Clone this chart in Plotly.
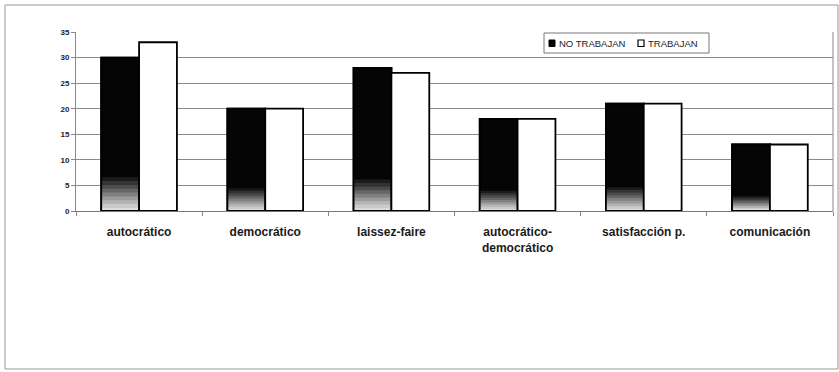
import plotly.graph_objects as go

categories = ["autocrático", "democrático", "laissez-faire",
              "autocrático-<br>democrático", "satisfacción p.", "comunicación"]
no_trabajan = [30, 20, 28, 18, 21, 13]
trabajan = [33, 20, 27, 18, 21, 13]
y_ticks = [0, 5, 10, 15, 20, 25, 30, 35]
legend_names = ["NO TRABAJAN", "TRABAJAN"]

FONT = "Liberation Sans, Arial, sans-serif"
W = 0.3
L, R, T, B = 76, 6, 32, 161
PW, PH = 839 - L - R, 372 - T - B


def px(x):
    return (x - L) / PW


def py(y):
    return 1 - (y - T) / PH


fig = go.Figure()
fig.add_trace(go.Bar(x=categories, y=no_trabajan, name=legend_names[0],
                     marker=dict(color="#050505", line=dict(color="#000", width=1.8)),
                     offset=-W, width=W, hoverinfo="skip", showlegend=False))
# fade toward the base of the dark bars (heights derived from the values)
fades = [(0.22, "#1c1c1c"), (0.195, "#333333"), (0.17, "#4c4c4c"), (0.145, "#666666"),
         (0.12, "#808080"), (0.095, "#9a9a9a"), (0.07, "#b4b4b4"), (0.045, "#cacaca"),
         (0.02, "#dcdcdc")]
for frac, col in fades:
    fig.add_trace(go.Bar(x=categories, y=[v * frac for v in no_trabajan],
                         marker=dict(color=col, line=dict(width=0)),
                         offset=-W, width=W, showlegend=False, hoverinfo="skip"))
fig.add_trace(go.Bar(x=categories, y=no_trabajan, showlegend=False,
                     marker=dict(color="rgba(0,0,0,0)", line=dict(color="#000", width=1.8)),
                     offset=-W, width=W, hoverinfo="skip"))
fig.add_trace(go.Bar(x=categories, y=trabajan, name=legend_names[1],
                     marker=dict(color="#ffffff", line=dict(color="#000", width=1.8)),
                     offset=0, width=W, hoverinfo="skip", showlegend=False))

shapes = [
    dict(type="line", xref="paper", yref="paper", x0=1, x1=1, y0=0, y1=1,
         line=dict(color="#888", width=1)),
    dict(type="rect", xref="paper", yref="paper",
         x0=px(5), x1=px(838), y0=py(369), y1=py(5),
         line=dict(color="#999", width=1), fillcolor="rgba(0,0,0,0)", layer="below"),
    # legend box
    dict(type="rect", xref="paper", yref="paper", x0=px(544), x1=px(709),
         y0=py(53), y1=py(33), line=dict(color="#777", width=1), fillcolor="white",
         layer="above"),
    dict(type="rect", xref="paper", yref="paper", x0=px(549), x1=px(555),
         y0=py(46.5), y1=py(40), line=dict(color="#000", width=1), fillcolor="#000",
         layer="above"),
    dict(type="rect", xref="paper", yref="paper", x0=px(638), x1=px(644),
         y0=py(46.5), y1=py(40), line=dict(color="#000", width=1.2), fillcolor="white",
         layer="above"),
]
annotations = [
    dict(text=legend_names[0], xref="paper", yref="paper", x=px(557), y=py(43.5),
         xanchor="left", yanchor="middle", showarrow=False,
         font=dict(size=9.5, family=FONT, color="#222")),
    dict(text=legend_names[1], xref="paper", yref="paper", x=px(646), y=py(43.5),
         xanchor="left", yanchor="middle", showarrow=False,
         font=dict(size=9.5, family=FONT, color="#222")),
]

fig.update_layout(
    width=839, height=372,
    margin=dict(l=L, r=R, t=T, b=B),
    barmode="overlay",
    plot_bgcolor="white", paper_bgcolor="white",
    font=dict(family=FONT, color="#222"),
    showlegend=False,
    xaxis=dict(type="category", showgrid=False, showline=True, linecolor="#777",
               linewidth=1, ticks="outside", tickson="boundaries", ticklen=4,
               tickcolor="#888", tickfont=dict(size=12, color="#1a1a1a", weight="bold"),
               ticklabelstandoff=10),
    yaxis=dict(range=[0, 35], tickvals=y_ticks, showgrid=True, gridcolor="#8a8a8a",
               gridwidth=1, showline=True, linecolor="#888", linewidth=1,
               ticks="outside", ticklen=4, tickcolor="#888",
               tickfont=dict(size=8, color="#222", weight="bold"), zeroline=False),
    shapes=shapes,
    annotations=annotations,
)

fig.write_html("out.html")
